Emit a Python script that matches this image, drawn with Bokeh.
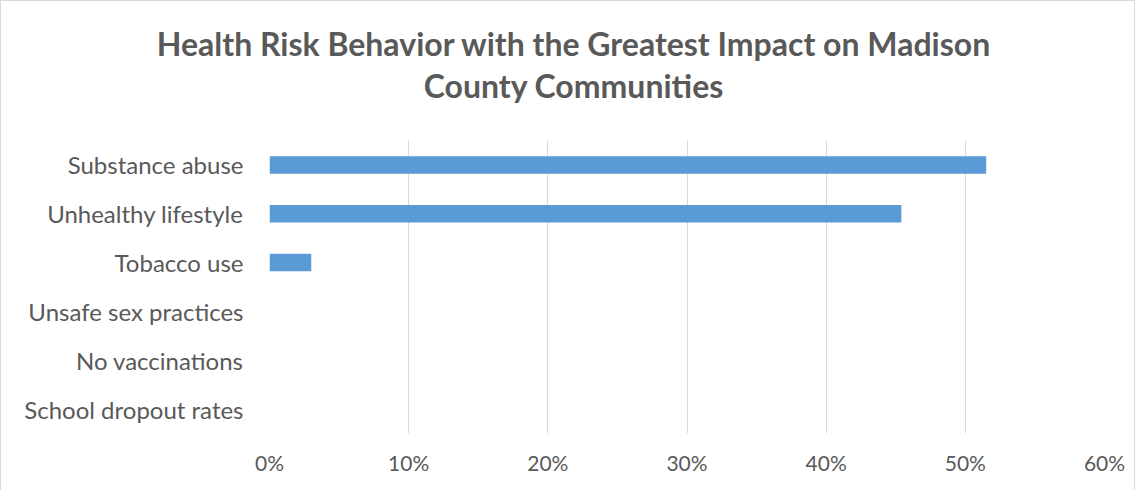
from bokeh.plotting import figure
from bokeh.models import FactorRange, Range1d, FixedTicker, NumeralTickFormatter, Div
from bokeh.layouts import column
from bokeh.embed import file_html
from bokeh.resources import INLINE

categories = ["Substance abuse", "Unhealthy lifestyle", "Tobacco use",
              "Unsafe sex practices", "No vaccinations", "School dropout rates"]
values = [0.515, 0.454, 0.030, 0.0, 0.0, 0.0]
x_ticks = [0.0, 0.1, 0.2, 0.3, 0.4, 0.5, 0.6]
title_lines = ["Health Risk Behavior with the Greatest Impact on Madison",
               "County Communities"]

FONT = "Lato"
GREY = "#595959"
W = 1133
TITLE_H = 120
H = 489 - TITLE_H
ML, MR, MT, MB = 268, 30, 139 - TITLE_H, 57

title = Div(
    text=('<div style="box-sizing:border-box;width:%dpx;text-align:center;font-family:%s;'
          'font-weight:bold;font-size:32px;line-height:42px;color:%s;'
          'padding-top:22px;padding-left:12px;margin:0;">%s</div>'
          % (W, FONT, GREY, "<br>".join(title_lines))),
    width=W, height=TITLE_H, margin=0)

p = figure(width=W, height=H,
           y_range=FactorRange(factors=list(reversed(categories))),
           x_range=Range1d(0, 0.6),
           output_backend="svg", toolbar_location=None,
           min_border_left=ML, min_border_right=MR,
           min_border_top=MT, min_border_bottom=MB, margin=0)

p.hbar(y=categories, right=values, height=0.36, color="#5B9BD5", line_color=None)

p.outline_line_color = None
p.ygrid.grid_line_color = None
p.xgrid.grid_line_color = "#d9d9d9"
p.xgrid.grid_line_width = 1

p.xaxis.ticker = FixedTicker(ticks=x_ticks)
p.xaxis.formatter = NumeralTickFormatter(format="0%")
for ax in (p.xaxis[0], p.yaxis[0]):
    ax.axis_line_color = None
    ax.major_tick_line_color = None
    ax.minor_tick_line_color = None
    ax.major_tick_out = 0
    ax.major_tick_in = 0
    ax.minor_tick_out = 0
    ax.major_label_text_color = GREY
    ax.major_label_text_font = FONT
p.xaxis.major_label_text_font_size = "21px"
p.xaxis.major_label_standoff = 16
p.yaxis.major_label_text_font_size = "24px"
p.yaxis.major_label_standoff = 26

layout = column(title, p, spacing=0, margin=0)
layout.styles = {"border": "1px solid #d9d9d9", "border-bottom": "none"}

open("out.html", "w").write(file_html(layout, INLINE))
